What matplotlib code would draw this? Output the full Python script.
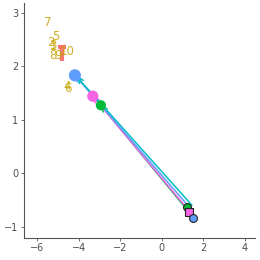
import matplotlib
matplotlib.use("Agg")
import matplotlib.pyplot as plt

# label points (olive text)
lab_text = ["1", "2", "3", "4", "5", "6", "7", "8", "9", "10"]
lab_x = [-5.22, -5.32, -5.26, -4.55, -5.12, -4.5, -5.5, -5.25, -5.0, -4.55]
lab_y = [2.36, 2.45, 2.38, 1.62, 2.55, 1.58, 2.82, 2.2, 2.2, 2.27]

# arrows: start -> end
arr_colors = ["#00BA38", "#F564E3", "#619CFF", "#00BFC4"]
arr_x0 = [1.25, 1.3, 1.38, 1.45]
arr_y0 = [-0.7, -0.7, -0.66, -0.6]
arr_x1 = [-2.93, -3.32, -4.18, -4.08]
arr_y1 = [1.27, 1.44, 1.83, 1.8]

# end points
pt_x = [-4.18, -3.32, -2.93]
pt_y = [1.83, 1.44, 1.27]
pt_colors = ["#619CFF", "#F564E3", "#00BA38"]

# start markers
st_x = [1.22, 1.3, 1.49]
st_y = [-0.63, -0.72, -0.83]
st_colors = ["#00BA38", "#F564E3", "#619CFF"]
st_markers = ["o", "s", "o"]

fig = plt.figure(figsize=(2.6, 2.6), dpi=100)
ax = fig.add_axes([0.092, 0.085, 0.888, 0.903])

for c, x0, y0, x1, y1 in zip(arr_colors, arr_x0, arr_y0, arr_x1, arr_y1):
    ax.annotate("", xy=(x1, y1), xytext=(x0, y0),
                arrowprops=dict(arrowstyle="->", color=c, lw=1.1,
                                mutation_scale=9, shrinkA=0, shrinkB=0))

ax.scatter(pt_x, pt_y, s=[60, 50, 40], c=pt_colors, zorder=3)
for x, y, c, m in zip(st_x, st_y, st_colors, st_markers):
    ax.scatter([x], [y], s=32, c=c, marker=m, edgecolors="#222222",
               linewidths=0.8, zorder=3)

# salmon "T" shaped mark
ax.plot([-5.0, -4.62], [2.36, 2.36], color="#F8766D", lw=3, solid_capstyle="butt")
ax.plot([-4.81, -4.81], [2.36, 2.1], color="#F8766D", lw=3, solid_capstyle="butt")

for t, x, y in zip(lab_text, lab_x, lab_y):
    ax.text(x, y, t, color="#C4A300", fontsize=8.5, ha="center", va="center",
            alpha=0.85, zorder=4)

ax.set_xlim(-6.63, 4.47)
ax.set_ylim(-1.21, 3.18)
ax.set_xticks([-6, -4, -2, 0, 2, 4])
ax.set_yticks([-1, 0, 1, 2, 3])
for s in ["top", "right"]:
    ax.spines[s].set_visible(False)
for s in ["left", "bottom"]:
    ax.spines[s].set_color("#555555")
    ax.spines[s].set_linewidth(0.8)
ax.tick_params(colors="#555555", labelsize=7, length=2, width=0.6, pad=2)
ax.tick_params(labelcolor="#4d4d4d")

fig.savefig("out.png", dpi=100)
